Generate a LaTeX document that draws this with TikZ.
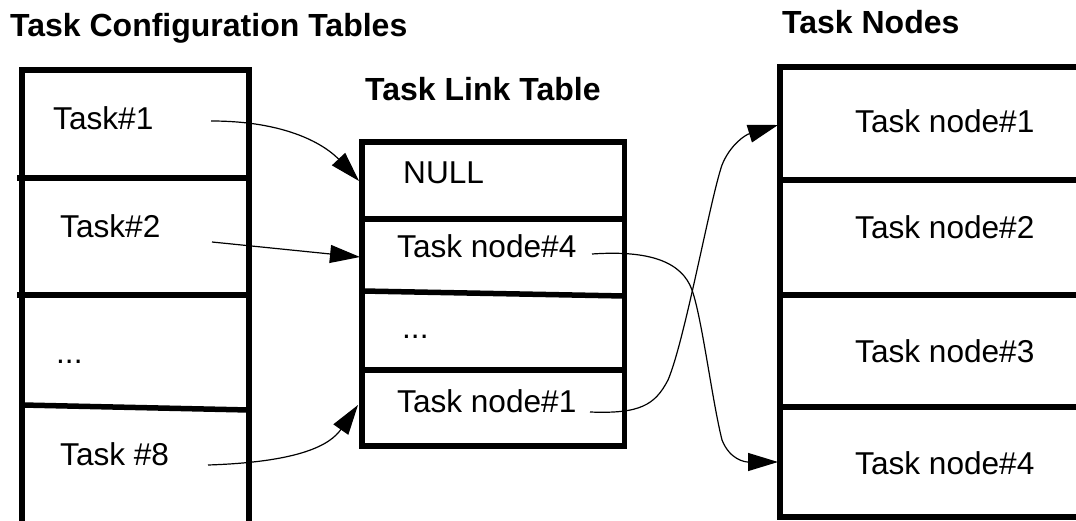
\documentclass[tikz,border=0pt]{standalone}
\usepackage{fontspec}
\setmainfont{Liberation Sans}
\usetikzlibrary{arrows.meta}
\begin{document}
\begin{tikzpicture}[x=1pt,y=-1pt,
  tablebox/.style={line width=5.5pt, line join=miter},
  cell/.style={anchor=base west, inner sep=0pt, font={\fontsize{31.6}{38}\selectfont}},
  heading/.style={anchor=base west, inner sep=0pt, font={\fontsize{32}{38}\selectfont\bfseries}},
  link/.style={line width=1.2pt, -{Triangle[length=30pt,width=18pt]}}]
\useasboundingbox (0,0) rectangle (1076,521);
\clip (0,0) rectangle (1076,521);

% headings
\node[heading] (hconf) at (10,37) {Task Configuration Tables};
\node[heading] (hlink) at (365,101) {Task Link Table};
\node[heading] (hnodes) at (782,34) {Task Nodes};

% task configuration tables
\draw[tablebox] (22,525) -- (22,70) -- (249,70) -- (249,525) -- cycle;
\draw[tablebox] (17,178) -- (249,178);
\draw[tablebox] (17,295) -- (249,295);
\draw[tablebox] (22,405) -- (249,410);
\node[cell] (t1) at (53,130) {Task\#1};
\node[cell] (t2) at (60,238) {Task\#2};
\node[cell] (tdots) at (56,363) {...};
\node[cell] (t8) at (60,465) {Task \#8};

% task link table
\draw[tablebox] (362,142) rectangle (624.5,446);
\draw[tablebox] (362,219) -- (624.5,219);
\draw[tablebox] (362,291) -- (624.5,296);
\draw[tablebox] (362,370) -- (624.5,370);
\node[cell] (lnull) at (403,184) {NULL};
\node[cell] (l4) at (397,258) {Task node\#4};
\node[cell] (ldots) at (402,338) {...};
\node[cell] (l1) at (397,412) {Task node\#1};

% task nodes
\draw[tablebox] (1090,67) -- (780,67) -- (780,517) -- (1090,517);
\draw[tablebox] (780,180) -- (1090,180);
\draw[tablebox] (780,295) -- (1090,295);
\draw[tablebox] (780,407) -- (1090,407);
\node[cell] (n1) at (855,133) {Task node\#1};
\node[cell] (n2) at (855,239) {Task node\#2};
\node[cell] (n3) at (855,362) {Task node\#3};
\node[cell] (n4) at (855,474) {Task node\#4};

% connector end points
\coordinate (s1) at (211,121);
\coordinate (s2) at (212,242);
\coordinate (s8) at (208,465);
\coordinate (sl4) at (592,254);
\coordinate (sl1) at (590,412);
\coordinate (enull) at (359,181);
\coordinate (el4) at (360,257);
\coordinate (el1) at (358,405);
\coordinate (en1) at (778,125);
\coordinate (en4) at (778,462);

% links
\draw[link] (s1) .. controls (295,121) and (330,150) .. (enull);
\draw[link] (s2) -- (el4);
\draw[link] (s8) .. controls (300,462) and (330,445) .. (el1);
\draw[link] (sl4) .. controls (650,250) and (682,262) .. (692,290)
  .. controls (702,318) and (712,400) .. (722,440)
  .. controls (730,460) and (745,462) .. (en4);
\draw[link] (sl1) .. controls (640,414) and (655,405) .. (668,380)
  .. controls (685,340) and (710,200) .. (722,165)
  .. controls (730,145) and (745,135) .. (en1);
\end{tikzpicture}
\end{document}
